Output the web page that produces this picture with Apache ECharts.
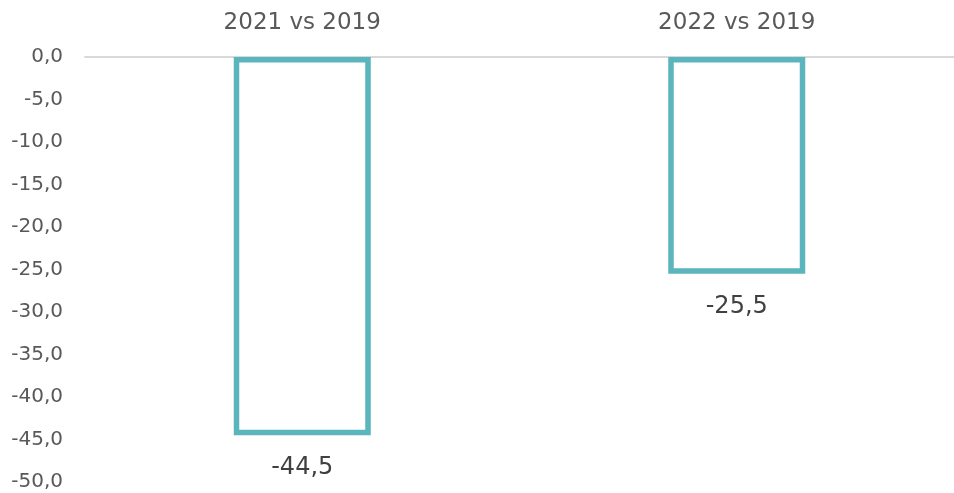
<!DOCTYPE html>
<html>
<head>
<meta charset="utf-8">
<script src="https://cdn.jsdelivr.net/npm/echarts@6/dist/echarts.min.js"></script>
<style>
  html, body { margin: 0; padding: 0; background: #fff; }
  #main { width: 954px; height: 493px; }
</style>
</head>
<body>
<div id="main"></div>
<script>
// data
var categories = ['2021 vs 2019', '2022 vs 2019'];
var values = [-44.5, -25.5];

var font = 'DejaVu Sans';
function fmt(v) {
  return v.toFixed(1).replace('.', ',');
}

var myChart = echarts.init(document.getElementById('main'));
myChart.setOption({
  animation: false,
  grid: { left: 85, right: 0, top: 57, bottom: 11 },
  xAxis: {
    type: 'category',
    position: 'top',
    data: categories,
    axisLine: { show: true, lineStyle: { color: '#d9d9d9', width: 2 } },
    axisTick: { show: false },
    axisLabel: { color: '#595959', fontSize: 23, fontFamily: font, margin: 22 }
  },
  yAxis: {
    type: 'value',
    min: -50,
    max: 0,
    interval: 5,
    axisLine: { show: false },
    axisTick: { show: false },
    splitLine: { show: false },
    axisLabel: {
      color: '#595959', fontSize: 20, fontFamily: font, margin: 22,
      padding: [4, 0, 0, 0],
      formatter: function (v) { return fmt(v); }
    }
  },
  series: [{
    type: 'bar',
    data: values,
    barWidth: 137,
    itemStyle: { color: '#ffffff', borderColor: '#5bb5bc', borderWidth: 5.5 },
    label: {
      show: true,
      position: 'bottom',
      distance: 21,
      color: '#404040',
      fontSize: 24,
      fontFamily: font,
      formatter: function (p) { return fmt(p.value); }
    }
  }]
});
</script>
</body>
</html>
